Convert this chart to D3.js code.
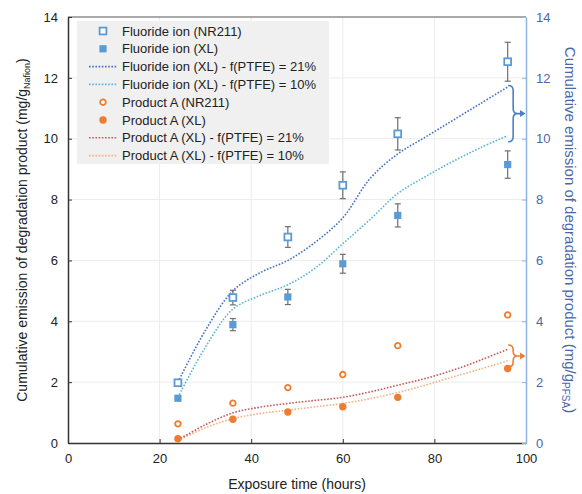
<!DOCTYPE html>
<html>
<head>
<meta charset="utf-8">
<script src="https://cdn.jsdelivr.net/npm/d3@7"></script>
<style>
  body { margin: 0; background: #fff; }
  svg { font-family: 'Liberation Sans', Arial, sans-serif; }
</style>
</head>
<body>
<div id="chart"></div>
<script>
const hours = [24, 36, 48, 60, 72, 96];
const fluorideNR211 = [1.98, 4.78, 6.77, 8.47, 10.16, 12.53];
const fluorideNR211Err = [0.1, 0.24, 0.34, 0.44, 0.53, 0.64];
const fluorideXL = [1.47, 3.89, 4.8, 5.89, 7.48, 9.15];
const fluorideXLErr = [0.05, 0.2, 0.25, 0.31, 0.38, 0.45];
const productANR211 = [0.63, 1.31, 1.82, 2.25, 3.2, 4.21];
const productAXL = [0.14, 0.78, 1.02, 1.19, 1.5, 2.45];

const modelHours = [24, 30, 36, 42, 48, 54, 60, 66, 72, 78, 84, 90, 96];
const fluoride21 = [2.0, 3.7, 5.0, 5.6, 6.0, 6.6, 7.4, 8.7, 9.5, 10.05, 10.6, 11.15, 11.7];
const fluoride10 = [1.5, 3.15, 4.4, 4.85, 5.2, 5.75, 6.55, 7.35, 8.2, 8.75, 9.25, 9.7, 10.1];
const productA21 = [0.1, 0.6, 0.99, 1.18, 1.3, 1.4, 1.5, 1.68, 1.9, 2.12, 2.39, 2.72, 3.08];
const productA10 = [0.08, 0.5, 0.8, 0.97, 1.08, 1.19, 1.3, 1.46, 1.66, 1.9, 2.17, 2.43, 2.7];

const xTicks = [0, 20, 40, 60, 80, 100];
const yTicks = [0, 2, 4, 6, 8, 10, 12, 14];

const legendItems = [
  { label: 'Fluoride ion (NR211)', kind: 'square', open: true, color: '#5b9bd5' },
  { label: 'Fluoride ion (XL)', kind: 'square', open: false, color: '#5b9bd5' },
  { label: 'Fluoride ion (XL) - f(PTFE) = 21%', kind: 'line', color: '#4472c4' },
  { label: 'Fluoride ion (XL) - f(PTFE) = 10%', kind: 'line', color: '#5bb5d5' },
  { label: 'Product A (NR211)', kind: 'circle', open: true, color: '#ed7d31' },
  { label: 'Product A (XL)', kind: 'circle', open: false, color: '#ed7d31' },
  { label: 'Product A (XL) - f(PTFE) = 21%', kind: 'line', color: '#c55a5a' },
  { label: 'Product A (XL) - f(PTFE) = 10%', kind: 'line', color: '#f4b183' },
];

const width = 582;
const height = 494;
const margin = { top: 17, right: 56, bottom: 51, left: 68 };
const axisBlue = '#8db4e2';
const textBlue = '#4a68a8';

const svg = d3.select('#chart').append('svg')
  .attr('width', width)
  .attr('height', height);

const x = d3.scaleLinear().domain([0, 100]).range([margin.left, width - margin.right]);
const y = d3.scaleLinear().domain([0, 14]).range([height - margin.bottom, margin.top]);

// grid
svg.append('g')
  .selectAll('line.v')
  .data(xTicks.slice(1, -1))
  .join('line')
    .attr('x1', d => x(d)).attr('x2', d => x(d))
    .attr('y1', y(0)).attr('y2', y(14))
    .attr('stroke', '#ececec');
svg.append('g')
  .selectAll('line.h')
  .data(yTicks.slice(1, -1))
  .join('line')
    .attr('x1', x(0)).attr('x2', x(100))
    .attr('y1', d => y(d)).attr('y2', d => y(d))
    .attr('stroke', '#ececec');

// frame
svg.append('line')
  .attr('x1', x(0)).attr('x2', x(100))
  .attr('y1', y(14)).attr('y2', y(14))
  .attr('stroke', '#555').attr('stroke-width', 1);

// bottom axis
const xAxis = svg.append('g')
  .attr('transform', `translate(0,${y(0)})`)
  .call(d3.axisBottom(x).tickValues(xTicks).tickSizeInner(-4).tickSizeOuter(0).tickPadding(11));
xAxis.select('.domain').attr('stroke', '#333').attr('stroke-width', 1.5);
xAxis.selectAll('.tick line').attr('stroke', '#333');
xAxis.selectAll('text').attr('font-size', 13).attr('fill', '#222');

// left axis
const yAxis = svg.append('g')
  .attr('transform', `translate(${x(0)},0)`)
  .call(d3.axisLeft(y).tickValues(yTicks).tickSizeInner(-4).tickSizeOuter(0).tickPadding(10));
yAxis.select('.domain').attr('stroke', '#333').attr('stroke-width', 1.5);
yAxis.selectAll('.tick line').attr('stroke', '#333');
yAxis.selectAll('text').attr('font-size', 13).attr('fill', '#222');

// right axis
const yRight = svg.append('g')
  .attr('transform', `translate(${x(100)},0)`)
  .call(d3.axisRight(y).tickValues(yTicks).tickSizeInner(-4).tickSizeOuter(0).tickPadding(10));
yRight.select('.domain').attr('stroke', axisBlue).attr('stroke-width', 1.5);
yRight.selectAll('.tick line').attr('stroke', axisBlue);
yRight.selectAll('text').attr('font-size', 13).attr('fill', textBlue);

// titles
svg.append('text')
  .attr('x', (x(0) + x(100)) / 2)
  .attr('y', 489)
  .attr('text-anchor', 'middle')
  .attr('font-size', 14)
  .attr('fill', '#222')
  .text('Exposure time (hours)');

const leftTitle = svg.append('text')
  .attr('transform', `translate(27,${(y(0) + y(14)) / 2}) rotate(-90)`)
  .attr('text-anchor', 'middle')
  .attr('font-size', 14)
  .attr('fill', '#222');
leftTitle.append('tspan').text('Cumulative emission of degradation product (mg/g');
leftTitle.append('tspan').attr('font-size', 9).attr('dy', 3).text('Nafion');
leftTitle.append('tspan').attr('dy', -3).text(')');

const rightTitle = svg.append('text')
  .attr('transform', `translate(565,${(y(0) + y(14)) / 2}) rotate(90)`)
  .attr('text-anchor', 'middle')
  .attr('font-size', 15)
  .attr('fill', textBlue);
rightTitle.append('tspan').text('Cumulative emission of degradation product (mg/g');
rightTitle.append('tspan').attr('font-size', 10).attr('dy', 3).text('PFSA');
rightTitle.append('tspan').attr('dy', -3).text(')');

// model curves
const line = d3.line()
  .x(d => x(d[0]))
  .y(d => y(d[1]))
  .curve(d3.curveCatmullRom);

const curves = [
  { values: productA10, color: '#f4b183' },
  { values: productA21, color: '#c55a5a' },
  { values: fluoride10, color: '#5bb5d5' },
  { values: fluoride21, color: '#4472c4' },
];
svg.append('g')
  .selectAll('path')
  .data(curves)
  .join('path')
    .attr('d', c => line(modelHours.map((h, i) => [h, c.values[i]])))
    .attr('fill', 'none')
    .attr('stroke', c => c.color)
    .attr('stroke-width', 1.6)
    .attr('stroke-dasharray', '1.6,1.6');

// error bars
const errorBars = (vals, errs) => {
  const g = svg.append('g').attr('stroke', '#6f6f6f').attr('stroke-width', 1.2);
  const rows = hours.map((h, i) => ({ h, v: vals[i], e: errs[i] }));
  g.selectAll('line.bar').data(rows).join('line')
    .attr('x1', d => x(d.h)).attr('x2', d => x(d.h))
    .attr('y1', d => y(d.v - d.e)).attr('y2', d => y(d.v + d.e));
  ['-', '+'].forEach(sign => {
    g.append('g').selectAll('line').data(rows).join('line')
      .attr('x1', d => x(d.h) - 3).attr('x2', d => x(d.h) + 3)
      .attr('y1', d => y(sign === '+' ? d.v + d.e : d.v - d.e))
      .attr('y2', d => y(sign === '+' ? d.v + d.e : d.v - d.e));
  });
};
errorBars(fluorideNR211, fluorideNR211Err);
errorBars(fluorideXL, fluorideXLErr);

// markers
const drawMarker = (sel, kind, open, color) => {
  if (kind === 'square') {
    sel.append('rect')
      .attr('x', open ? -3.4 : -3.6).attr('y', open ? -3.4 : -3.6)
      .attr('width', open ? 6.8 : 7.2).attr('height', open ? 6.8 : 7.2)
      .attr('fill', open ? '#fff' : color)
      .attr('stroke', open ? color : 'none')
      .attr('stroke-width', 1.8);
  } else {
    sel.append('circle')
      .attr('r', open ? 2.8 : 3.7)
      .attr('fill', open ? '#fff' : color)
      .attr('stroke', open ? color : 'none')
      .attr('stroke-width', 1.8);
  }
};

const markerSeries = [
  { values: productANR211, kind: 'circle', open: true, color: '#ed7d31' },
  { values: productAXL, kind: 'circle', open: false, color: '#ed7d31' },
  { values: fluorideNR211, kind: 'square', open: true, color: '#5b9bd5' },
  { values: fluorideXL, kind: 'square', open: false, color: '#5b9bd5' },
];
markerSeries.forEach(s => {
  svg.append('g')
    .selectAll('g')
    .data(hours.map((h, i) => [h, s.values[i]]))
    .join('g')
      .attr('transform', d => `translate(${x(d[0])},${y(d[1])})`)
      .each(function addMarker() { drawMarker(d3.select(this), s.kind, s.open, s.color); });
});

// braces with arrows pointing at the right axis
const brace = (top, bottom, color) => {
  const xl = x(96.1);
  const xm = x(97.2);
  const xc = x(98.1);
  const yt = y(top);
  const yb = y(bottom);
  const ym = (yt + yb) / 2;
  const p = d3.path();
  p.moveTo(xl, yt);
  p.quadraticCurveTo(xm, yt, xm, yt + 5);
  p.lineTo(xm, ym - 5);
  p.quadraticCurveTo(xm, ym, xc, ym);
  p.quadraticCurveTo(xm, ym, xm, ym + 5);
  p.lineTo(xm, yb - 5);
  p.quadraticCurveTo(xm, yb, xl, yb);
  p.moveTo(xc, ym);
  p.lineTo(x(99.2), ym);
  svg.append('path')
    .attr('d', p.toString())
    .attr('fill', 'none')
    .attr('stroke', color)
    .attr('stroke-width', 1.6);
  svg.append('path')
    .attr('d', `M${x(99.9)},${ym}L${x(98.7)},${ym - 3.5}L${x(98.7)},${ym + 3.5}Z`)
    .attr('fill', color);
};
brace(11.75, 9.9, '#4a7fc1');
brace(3.22, 2.5, '#ed7d31');

// legend
const legend = svg.append('g').attr('transform', 'translate(77,21)');
legend.append('rect')
  .attr('width', 252).attr('height', 143)
  .attr('fill', '#f0f0f0');
const rows = legend.selectAll('g.row')
  .data(legendItems)
  .join('g')
    .attr('transform', (d, i) => `translate(0,${10 + i * 17.8})`);
rows.each(function addRow(d) {
  const row = d3.select(this);
  if (d.kind === 'line') {
    row.append('line')
      .attr('x1', 12).attr('x2', 40)
      .attr('stroke', d.color)
      .attr('stroke-width', 1.6)
      .attr('stroke-dasharray', '1.6,1.6');
  } else {
    drawMarker(row.append('g').attr('transform', 'translate(26,0)'), d.kind, d.open, d.color);
  }
});
rows.append('text')
  .attr('x', 45)
  .attr('dy', '0.35em')
  .attr('font-size', 13)
  .attr('fill', '#222')
  .text(d => d.label);
</script>
</body>
</html>
